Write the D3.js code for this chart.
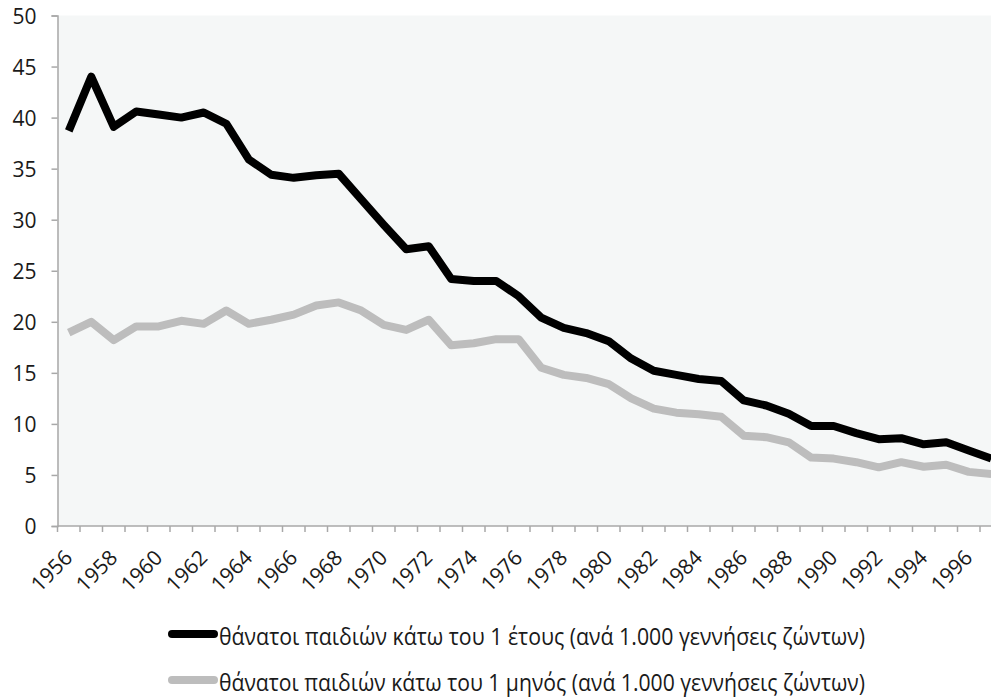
<!DOCTYPE html>
<html><head><meta charset="utf-8">
<script src="https://cdn.jsdelivr.net/npm/d3@7"></script>
<style>
html,body{margin:0;padding:0;background:#fff;overflow:hidden}
text{font-family:"Open Sans","Noto Sans",sans-serif;fill:#1a1a1a}
</style></head>
<body><svg id="c" width="991" height="699"></svg>
<script>
const years = d3.range(1956, 1998);
const under1Year = [38.7,44.0,39.1,40.6,40.3,40.0,40.5,39.4,35.9,34.4,34.1,34.35,34.5,32.0,29.5,27.1,27.4,24.2,24.0,24.0,22.5,20.4,19.4,18.9,18.1,16.4,15.2,14.8,14.4,14.2,12.3,11.8,11.0,9.8,9.8,9.1,8.5,8.6,8.0,8.2,7.4,6.6];
const under1Month = [18.95,20.0,18.2,19.55,19.55,20.1,19.8,21.1,19.8,20.2,20.7,21.6,21.9,21.1,19.7,19.2,20.2,17.7,17.9,18.3,18.3,15.5,14.8,14.5,13.9,12.5,11.5,11.1,10.95,10.7,8.85,8.7,8.2,6.7,6.6,6.25,5.75,6.25,5.8,6.0,5.3,5.1];
const yTicks = [0,5,10,15,20,25,30,35,40,45,50];
const xLabelYears = d3.range(1956, 1998, 2);
const seriesNames = ["θάνατοι παιδιών κάτω του 1 έτους (ανά 1.000 γεννήσεις ζώντων)",
                     "θάνατοι παιδιών κάτω του 1 μηνός (ανά 1.000 γεννήσεις ζώντων)"];
const seriesColors = ["#000000", "#bdbdbd"];

(function () {
const svg = d3.select("#c");
const mLeft = 57.5, mTop = 15.5, mBottom = 526;
const step = 22.5;
const x = d3.scaleBand().domain(years).range([mLeft, mLeft + years.length * step]).padding(0);
const y = d3.scaleLinear().domain([0, 50]).range([mBottom, mTop]);
const axisColor = "#a8a8a8";

// plot background
svg.append("rect").attr("x", mLeft).attr("y", y(50)).attr("width", 991 - mLeft)
  .attr("height", y(0) - y(50)).attr("fill", "#f5f7f7");

// y axis
const ya = svg.append("g").attr("transform", `translate(${mLeft},0)`)
  .call(d3.axisLeft(y).tickValues(yTicks).tickSize(6).tickPadding(15));
ya.select(".domain").attr("stroke", axisColor).attr("stroke-width", 1.5);
ya.selectAll(".tick line").attr("stroke", axisColor).attr("stroke-width", 1.5);
ya.selectAll(".tick text").style("font-size", "21px").attr("fill", "#1a1a1a").attr("dy", "0.36em");

// x axis: baseline + boundary ticks
svg.append("line").attr("x1", mLeft).attr("x2", 991).attr("y1", mBottom).attr("y2", mBottom)
  .attr("stroke", axisColor).attr("stroke-width", 1.5);
svg.append("g").selectAll("line").data(years).join("line")
  .attr("x1", d => x(d)).attr("x2", d => x(d)).attr("y1", mBottom).attr("y2", mBottom + 6)
  .attr("stroke", axisColor).attr("stroke-width", 1.5);
const xa = svg.append("g").attr("transform", `translate(0,${mBottom})`)
  .call(d3.axisBottom(x).tickValues(xLabelYears).tickSize(0).tickFormat(d3.format("d")));
xa.select(".domain").remove();
xa.selectAll(".tick text").style("font-size", "21px").attr("fill", "#1a1a1a")
  .attr("text-anchor", "end").attr("dy", null).attr("y", 0)
  .attr("transform", "translate(5,33) rotate(-45)");

// lines
const line = d3.line().x((d, i) => x(years[i]) + x.bandwidth() / 2).y(d => y(d));
[[under1Month, seriesColors[1]], [under1Year, seriesColors[0]]].forEach(([s, c]) => {
  svg.append("path").datum(s).attr("d", line).attr("fill", "none")
    .attr("stroke", c).attr("stroke-width", 8)
    .attr("stroke-linejoin", "round").attr("stroke-linecap", "butt");
});

// legend
const lg = svg.append("g");
seriesNames.forEach((n, i) => {
  const yy = 634 + i * 46;
  lg.append("line").attr("x1", 172).attr("x2", 214).attr("y1", yy).attr("y2", yy)
    .attr("stroke", seriesColors[i]).attr("stroke-width", 8).attr("stroke-linecap", "round");
  lg.append("text").attr("x", 219).attr("y", yy + 3).attr("dy", "0.35em")
    .style("font-size", "23px").attr("textLength", 646)
    .attr("lengthAdjust", "spacingAndGlyphs").text(n);
});
})();
</script></body></html>
